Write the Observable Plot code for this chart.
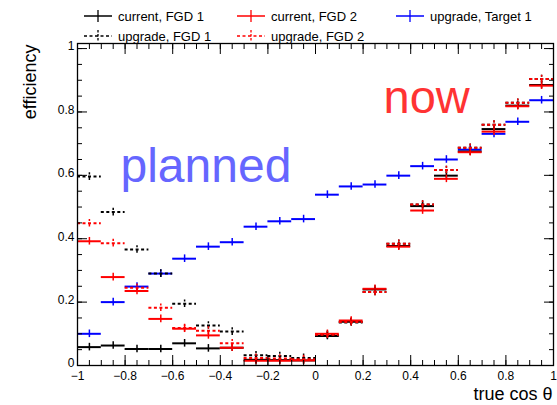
<!DOCTYPE html>
<html>
<head>
<meta charset="utf-8">
<script src="https://cdn.jsdelivr.net/npm/d3@7"></script>
<script src="https://cdn.jsdelivr.net/npm/@observablehq/plot@0.6"></script>
<style>
  body { margin: 0; background: #fff; font-family: "Liberation Sans", Arial, Helvetica, sans-serif; }
  #wrap { position: relative; width: 557px; height: 405px; overflow: hidden; }
  #legend { position: absolute; left: 0; top: 0; width: 557px; height: 44px; }
  .item { position: absolute; display: flex; align-items: center; height: 16px; font-size: 13px; color: #000; white-space: nowrap; }
  .item svg { margin-right: 6px; }
</style>
</head>
<body>
<div id="wrap"><div id="chart"></div><div id="legend"></div></div>
<script>
// Bins in true cos(theta): 20 bins of width 0.1 between -1 and 1
const binCenters = [-0.95, -0.85, -0.75, -0.65, -0.55, -0.45, -0.35, -0.25, -0.15, -0.05,
                     0.05,  0.15,  0.25,  0.35,  0.45,  0.55,  0.65,  0.75,  0.85,  0.95];
const binWidth = 0.1;

// Selection efficiency per bin
const currentFGD1 = [0.058, 0.063, 0.052, 0.052, 0.070, 0.054, 0.056, 0.018, 0.017, 0.016,
                     0.093, 0.138, 0.240, 0.377, 0.503, 0.599, 0.675, 0.746, 0.820, 0.885];
const currentFGD2 = [0.392, 0.279, 0.235, 0.147, 0.116, 0.095, 0.056, 0.015, 0.015, 0.016,
                     0.100, 0.142, 0.242, 0.375, 0.489, 0.589, 0.673, 0.738, 0.818, 0.883];
const upgradeTarget1 = [0.100, 0.200, 0.249, 0.290, 0.337, 0.375, 0.389, 0.438, 0.455, 0.462,
                        0.539, 0.565, 0.571, 0.599, 0.629, 0.650, 0.681, 0.731, 0.769, 0.837];
const upgradeFGD1 = [0.596, 0.484, 0.366, 0.290, 0.195, 0.126, 0.107, 0.032, 0.030, 0.024,
                     0.096, 0.136, 0.232, 0.384, 0.508, 0.617, 0.687, 0.760, 0.829, 0.904];
const upgradeFGD2 = [0.449, 0.386, 0.245, 0.182, 0.118, 0.110, 0.070, 0.024, 0.022, 0.020,
                     0.097, 0.137, 0.232, 0.384, 0.508, 0.617, 0.687, 0.760, 0.829, 0.904];

// Statistical uncertainty on each efficiency
const efficiencyError = 0.012;

const seriesNames = ["current, FGD 1", "current, FGD 2", "upgrade, Target 1", "upgrade, FGD 1", "upgrade, FGD 2"];
const seriesValues = [currentFGD1, currentFGD2, upgradeTarget1, upgradeFGD1, upgradeFGD2];
const seriesColors = ["#000000", "#ff0000", "#0000ff", "#000000", "#ff0000"];
const seriesDashed = [false, false, false, true, true];

const axisTitleX = "true cos θ";
const axisTitleY = "efficiency";
const notePlanned = "planned";
const noteNow = "now";

const font = '"Liberation Sans", Arial, Helvetica, sans-serif';
const fmt = d3.format("~g");

const series = seriesNames.map((name, k) => ({
  name,
  color: seriesColors[k],
  dash: seriesDashed[k] ? "3,2.5" : null,
  rows: binCenters.map((x, i) => ({
    x, x1: x - binWidth / 2, x2: x + binWidth / 2,
    y: seriesValues[k][i],
    y1: seriesValues[k][i] - efficiencyError,
    y2: seriesValues[k][i] + efficiencyError
  }))
}));

// Draw the Target histogram underneath the FGD ones
const drawOrder = [2, 0, 1, 3, 4];

const histMarks = drawOrder.flatMap(k => {
  const s = series[k];
  return [
    Plot.ruleY(s.rows, {y: "y", x1: "x1", x2: "x2", stroke: s.color, strokeWidth: 2, strokeDasharray: s.dash}),
    Plot.ruleX(s.rows, {x: "x", y1: "y1", y2: "y2", stroke: s.color, strokeWidth: 1.5, strokeDasharray: s.dash})
  ];
});

const xMajor = d3.ticks(-1, 1, 10);
const xMinor = d3.ticks(-1, 1, 40);
const yMajor = d3.ticks(0, 1, 5);
const yMinor = d3.ticks(0, 1, 20);
const blank = () => "";

const chart = Plot.plot({
  width: 557,
  height: 405,
  marginLeft: 77,
  marginRight: 4,
  marginTop: 43,
  marginBottom: 40,
  style: {fontFamily: font, background: "transparent"},
  x: {domain: [-1, 1], label: null},
  y: {domain: [0, 1.016], label: null},
  marks: [
    ...histMarks,
    // inward ticks on all four sides
    Plot.axisX(xMajor, {anchor: "bottom", tickSize: -10, tickFormat: blank, label: null}),
    Plot.axisX(xMinor, {anchor: "bottom", tickSize: -5, tickFormat: blank, label: null}),
    Plot.axisX(xMajor, {anchor: "top", tickSize: -10, tickFormat: blank, label: null}),
    Plot.axisX(xMinor, {anchor: "top", tickSize: -5, tickFormat: blank, label: null}),
    Plot.axisY(yMajor, {anchor: "left", tickSize: -10, tickFormat: blank, label: null}),
    Plot.axisY(yMinor, {anchor: "left", tickSize: -5, tickFormat: blank, label: null}),
    Plot.axisY(yMajor, {anchor: "right", tickSize: -10, tickFormat: blank, label: null}),
    Plot.axisY(yMinor, {anchor: "right", tickSize: -5, tickFormat: blank, label: null}),
    // tick labels
    Plot.axisX(xMajor, {anchor: "bottom", tickSize: 0, tickPadding: 6, tickFormat: fmt, fontSize: 12, label: null}),
    Plot.axisY(yMajor, {anchor: "left", tickSize: 0, tickPadding: 3, dy: -2, tickFormat: fmt, fontSize: 12, label: null}),
    Plot.frame({stroke: "#000", strokeWidth: 1.3}),
    // axis titles
    Plot.text([axisTitleY], {text: d => d, frameAnchor: "top-left", dx: -47, dy: 1, rotate: -90,
      textAnchor: "end", lineAnchor: "middle", fontSize: 18, fill: "#000"}),
    Plot.text([axisTitleX], {text: d => d, frameAnchor: "bottom-right", dx: -1, dy: 29,
      textAnchor: "end", lineAnchor: "middle", fontSize: 18, fill: "#000"}),
    // annotations
    Plot.text([notePlanned], {text: d => d, frameAnchor: "top-left", dx: 43, dy: 123,
      textAnchor: "start", lineAnchor: "middle", fontSize: 48, fill: "#6666ff"}),
    Plot.text([noteNow], {text: d => d, frameAnchor: "top-left", dx: 306, dy: 54,
      textAnchor: "start", lineAnchor: "middle", fontSize: 47, fill: "#ff3333"})
  ]
});
document.getElementById("chart").append(chart);

// Legend: two rows of error-bar glyphs with series names
const legendLeft = [84, 237, 396];
const legendTop = [8, 28];
const legend = d3.select("#legend");
series.forEach((s, i) => {
  const item = legend.append("div").attr("class", "item")
    .style("left", legendLeft[i % 3] + "px")
    .style("top", legendTop[Math.floor(i / 3)] + "px");
  const svg = item.append("svg").attr("width", 28).attr("height", 14);
  svg.append("line").attr("x1", 0).attr("x2", 28).attr("y1", 7).attr("y2", 7)
    .attr("stroke", s.color).attr("stroke-width", 1.5).attr("stroke-dasharray", s.dash);
  svg.append("line").attr("x1", 14).attr("x2", 14).attr("y1", 1).attr("y2", 13)
    .attr("stroke", s.color).attr("stroke-width", 1.3).attr("stroke-dasharray", s.dash ? "2.5,1.5" : null);
  item.append("span").text(s.name);
});
</script>
</body>
</html>
